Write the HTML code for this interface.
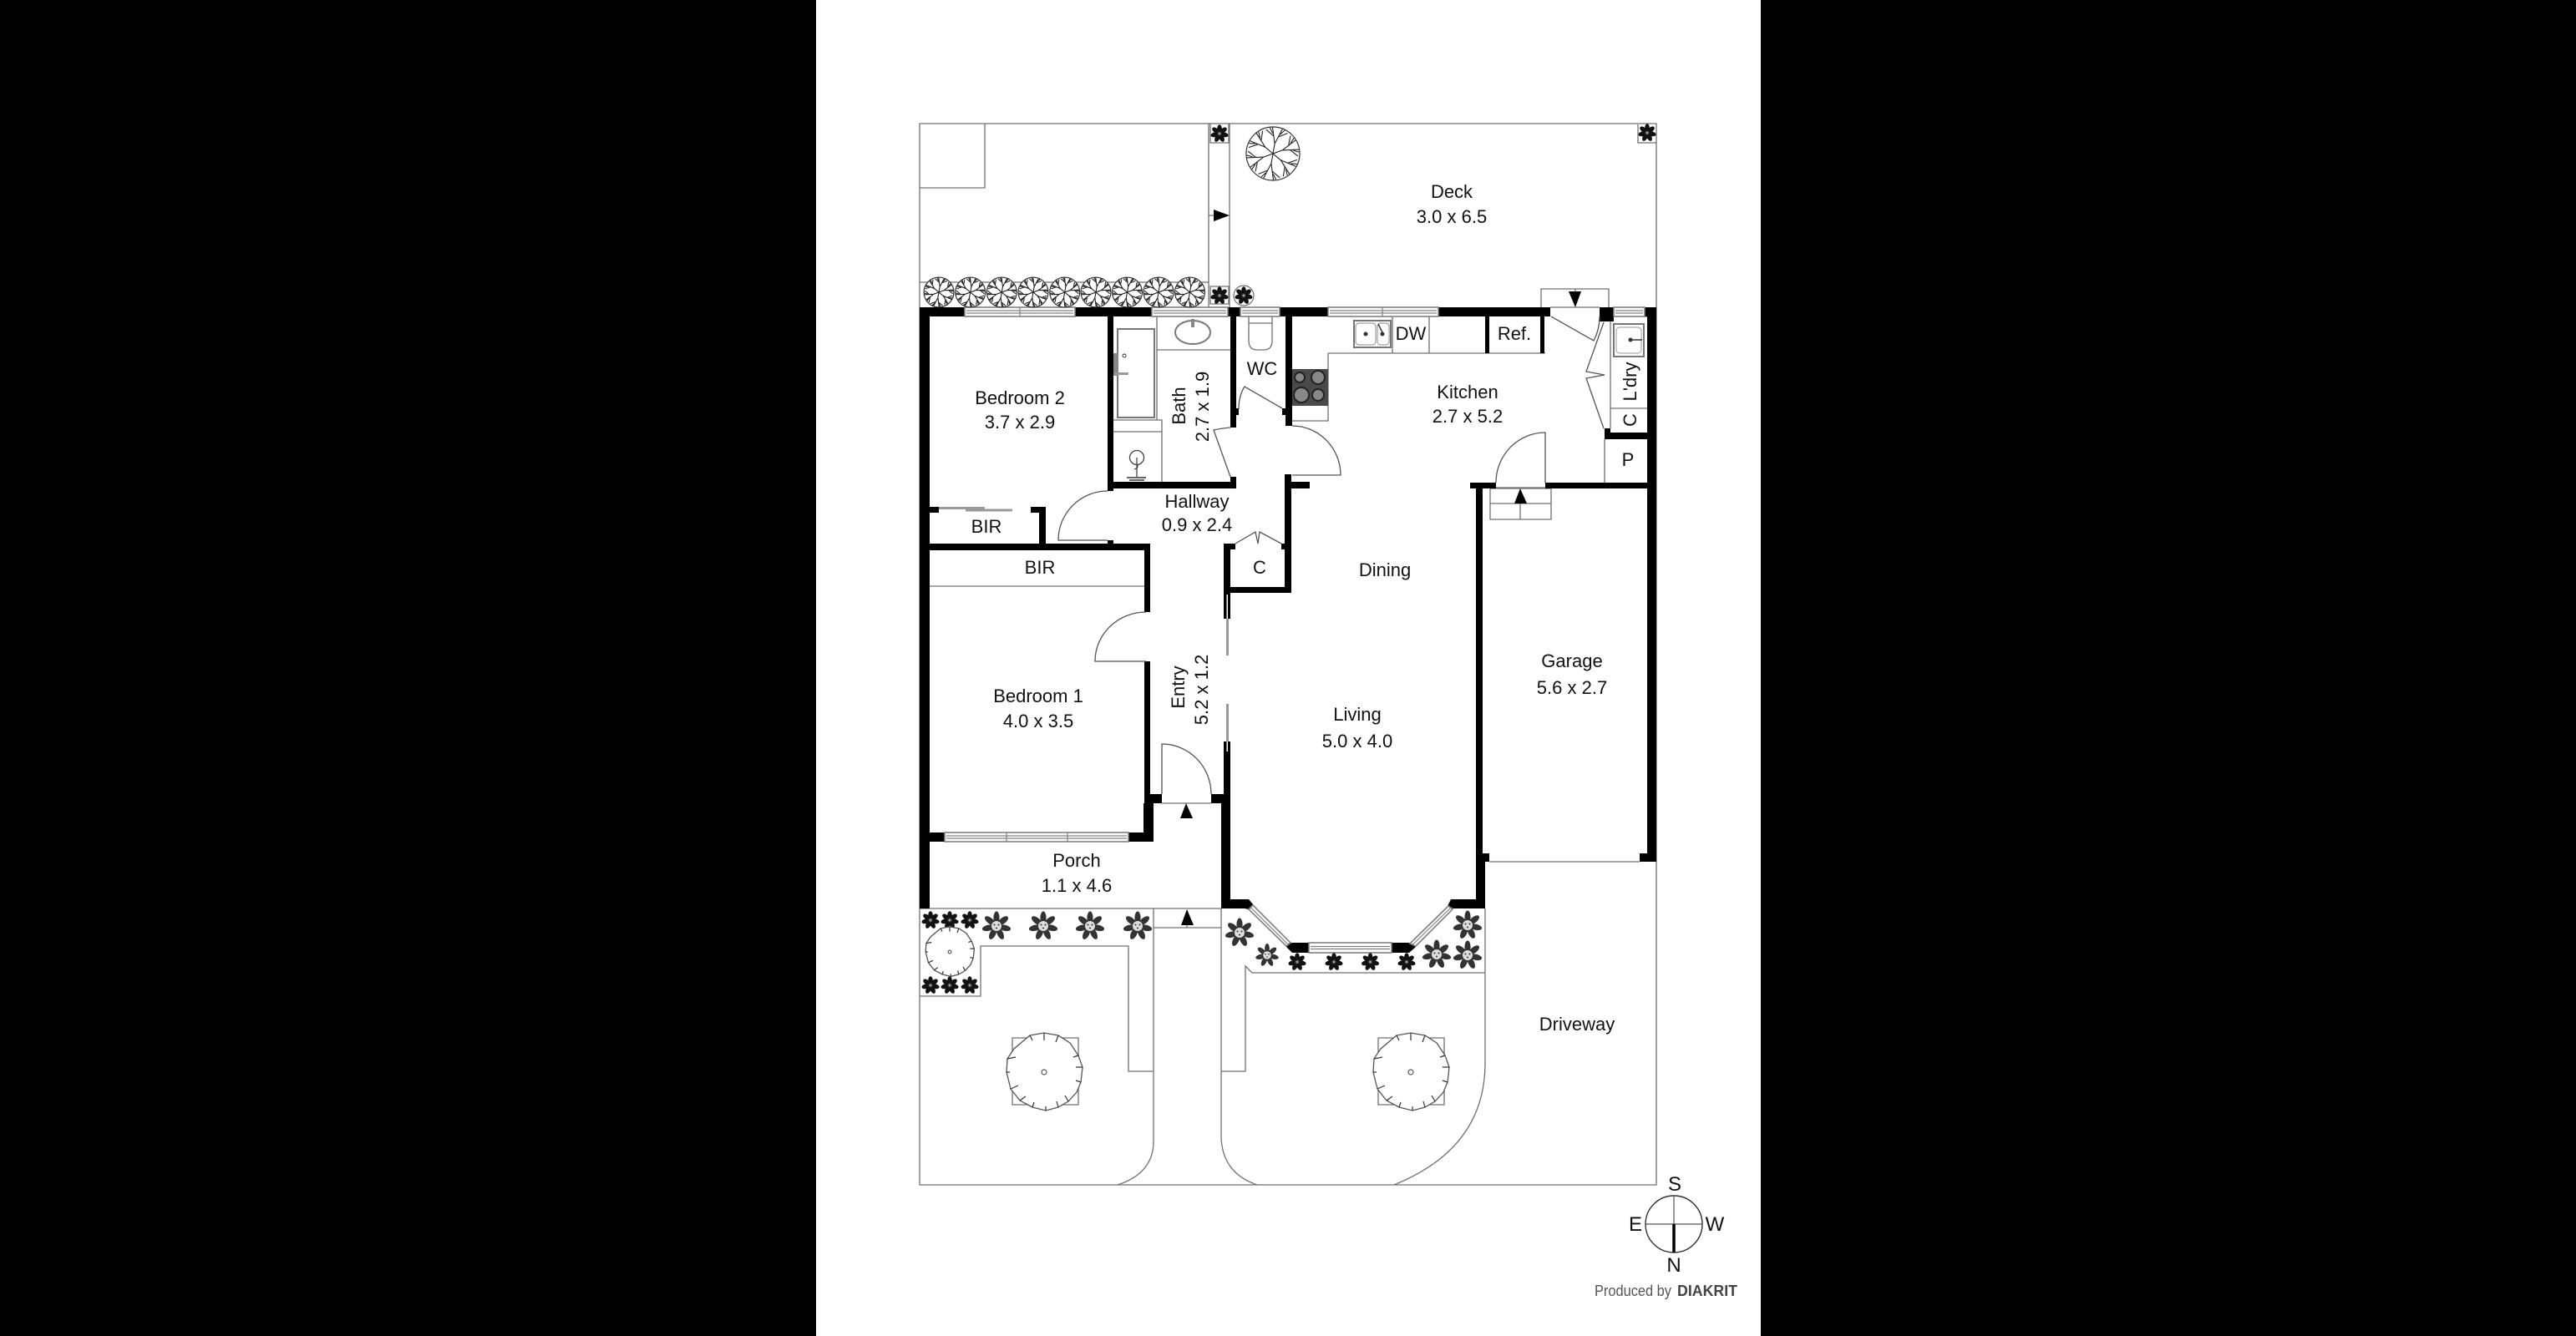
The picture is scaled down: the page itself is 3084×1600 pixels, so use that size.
<!DOCTYPE html>
<html><head><meta charset="utf-8"><title>Floor plan</title>
<style>
html,body{margin:0;padding:0;background:#000;width:3084px;height:1600px;overflow:hidden}
svg{display:block}
text{font-family:"Liberation Sans",sans-serif;font-size:22px;fill:#111;text-anchor:middle}
.l{fill:none;stroke:#707070;stroke-width:1.3}
.d{fill:none;stroke:#555;stroke-width:1.3}
.w{fill:#fff;stroke:#808080;stroke-width:1.6}
</style></head><body>
<svg xmlns="http://www.w3.org/2000/svg" width="3084" height="1600" viewBox="0 0 3084 1600">
<defs>
<g id="fs"><g fill="#111">
<ellipse cx="0" cy="-6" rx="2.8" ry="4.8"/><ellipse cx="0" cy="-6" rx="2.8" ry="4.8" transform="rotate(51)"/><ellipse cx="0" cy="-6" rx="2.8" ry="4.8" transform="rotate(103)"/><ellipse cx="0" cy="-6" rx="2.8" ry="4.8" transform="rotate(154)"/><ellipse cx="0" cy="-6" rx="2.8" ry="4.8" transform="rotate(206)"/><ellipse cx="0" cy="-6" rx="2.8" ry="4.8" transform="rotate(257)"/><ellipse cx="0" cy="-6" rx="2.8" ry="4.8" transform="rotate(309)"/></g>
<circle r="3.2" fill="#222"/><circle r="1.6" fill="#999"/></g>
<g id="fl"><g fill="#333">
<ellipse cx="0" cy="-10" rx="3.6" ry="7.5"/><ellipse cx="0" cy="-10" rx="3.6" ry="7.5" transform="rotate(51)"/><ellipse cx="0" cy="-10" rx="3.6" ry="7.5" transform="rotate(103)"/><ellipse cx="0" cy="-10" rx="3.6" ry="7.5" transform="rotate(154)"/><ellipse cx="0" cy="-10" rx="3.6" ry="7.5" transform="rotate(206)"/><ellipse cx="0" cy="-10" rx="3.6" ry="7.5" transform="rotate(257)"/><ellipse cx="0" cy="-10" rx="3.6" ry="7.5" transform="rotate(309)"/></g>
<circle r="6" fill="#ddd"/><circle cx="-2.500" cy="-1.500" r="1" fill="#333"/><circle cx="2.500" cy="-1.500" r="1" fill="#333"/><circle cx="0" cy="2.500" r="1" fill="#333"/></g>
<path id="br" d="M0 0L0 -12M0 -12L-6 -31M0 -12L6 -31M-3 -21L-13 -27M3 -21L13 -27M-4.500 -24L-9 -30M4.500 -24L9 -30" fill="none" stroke="#222" stroke-width="1.1" vector-effect="non-scaling-stroke"/>
<g id="tree"><circle r="32" fill="#fff" stroke="#333" stroke-width="1.2" vector-effect="non-scaling-stroke"/>
<use href="#br" transform="rotate(10)"/><use href="#br" transform="rotate(70)"/><use href="#br" transform="rotate(130)"/><use href="#br" transform="rotate(190)"/><use href="#br" transform="rotate(250)"/><use href="#br" transform="rotate(310)"/></g>
<g id="shrub"><path d="M-17 -44L0 -47L17 -44L31 -35L41 -20L46 -6L44 12L39 24L29 35L17 42L2 46L-14 42L-29 34L-40 20L-45 0L-44 -16L-36 -28Z" fill="#fff" stroke="#555" stroke-width="1.3" vector-effect="non-scaling-stroke"/>
<path d="M0 -47V-38M17 -44L14 -36M41 -20L35 -18M46 -6L38 -6M44 12L38 10M29 35L25 28M17 42L15 35M2 46V41M-14 42L-12 36M-29 34L-22 29M-40 20L-31 16M-45 0H-41M-44 -16L-34 -18M-17 -44L-14 -38" fill="none" stroke="#333" stroke-width="1.2" vector-effect="non-scaling-stroke"/>
<circle r="3" fill="#fff" stroke="#555" stroke-width="1.2" vector-effect="non-scaling-stroke"/></g>
</defs>

<rect x="0" y="0" width="3084" height="1600" fill="#000"/>
<rect x="977" y="0" width="1131" height="1600" fill="#fff"/>

<!-- site lines -->
<path class="l" d="M1101 1088V148H1983V1032M1101 1088V1419H1983V1032"/>
<path class="l" d="M1101 225H1179V148M1101 338H1447M1447 148V368M1472 148V368M1447 258H1453"/>
<path class="l" d="M1449 148V171H1471V148M1449 343H1471V364H1449Z M1961 149V171H1983"/>
<path class="l" d="M1101 1088H1462M1101 1193H1174V1133H1351V1283H1381M1381 1088V1367Q1381 1405 1338 1419"/>
<path class="l" d="M1381 1111H1462M1462 1088V1363Q1464 1405 1505 1419M1462 1283H1491V1157L1499 1165H1778M1778 1088V1273Q1778 1375 1669 1419"/>
<path class="l" d="M1212 1243H1291V1323H1212ZM1650 1243H1729V1323H1650Z"/>
<path class="l" d="M1783 1032H1963M1113 702H1370"/>
<path class="l" d="M1845 368V346H1926V368M1856 368H1915M1886 346V350"/>
<path class="l" d="M1784 585H1857V622H1784ZM1784 603H1857M1820 603V622M1791 584H1850"/>
<path class="l" d="M1391 962H1450"/>
<path class="l" d="M1385 379V503M1333 503H1391V577M1333 517H1391M1385 419H1473"/>
<path class="l" d="M1590 423H1850M1590 423V504H1547M1667 379V423M1711 379V423"/>
<path class="l" d="M1928 379V513M1928 489H1972M1928 379H1972M1921 526V578"/>

<!-- walls -->
<g fill="#000">
<rect x="1101" y="368" width="54" height="11"/><rect x="1287" y="368" width="92" height="11"/><rect x="1470" y="368" width="15" height="11"/><rect x="1532" y="368" width="58" height="11"/><rect x="1722" y="368" width="134" height="11"/><rect x="1915" y="368" width="17" height="17"/><rect x="1969" y="368" width="14" height="11"/>
<rect x="1101" y="368" width="12" height="720"/>
<rect x="1972" y="368" width="11" height="664"/>
<rect x="1326" y="379" width="7" height="209"/>
<rect x="1326" y="577" width="154" height="8"/><rect x="1473" y="571" width="7" height="14"/>
<rect x="1473" y="379" width="7" height="133"/><rect x="1480" y="489" width="3" height="8"/>
<rect x="1539" y="379" width="8" height="131"/><rect x="1535" y="489" width="4" height="8"/>
<rect x="1538" y="568" width="8" height="142"/><rect x="1546" y="577" width="22" height="8"/>
<rect x="1465" y="703" width="81" height="7"/><rect x="1465" y="651" width="8" height="90"/><rect x="1465" y="651" width="14" height="7"/><rect x="1534" y="651" width="4" height="7"/>
<rect x="1465" y="888" width="8" height="74"/><rect x="1462" y="962" width="11" height="126"/><rect x="1450" y="951" width="15" height="11"/>
<rect x="1377" y="951" width="14" height="11"/><rect x="1370" y="792" width="7" height="170"/><rect x="1369" y="962" width="12" height="46"/>
<rect x="1113" y="997" width="18" height="11"/><rect x="1351" y="997" width="30" height="11"/>
<rect x="1113" y="651" width="264" height="8"/><rect x="1370" y="651" width="7" height="82"/>
<rect x="1113" y="607" width="11" height="7"/><rect x="1234" y="607" width="18" height="7"/><rect x="1244" y="607" width="8" height="44"/><rect x="1326" y="647" width="7" height="5"/>
<rect x="1778" y="379" width="5" height="44"/><rect x="1844" y="379" width="5" height="44"/>
<rect x="1760" y="578" width="31" height="7"/><rect x="1850" y="578" width="122" height="7"/>
<rect x="1921" y="513" width="7" height="13"/><rect x="1921" y="518" width="51" height="8"/>
<rect x="1767" y="585" width="8" height="437"/><rect x="1767" y="1022" width="16" height="10"/><rect x="1767" y="1032" width="11" height="56"/>
<rect x="1963" y="1022" width="10" height="10"/>
<path d="M1462 1077H1495L1500 1083L1495 1089L1490 1088H1462Z"/>
<path d="M1545 1129H1567V1141H1547L1539 1133Z"/>
<path d="M1666 1129H1687L1695 1134L1687 1141H1666Z"/>
<path d="M1737 1077H1778V1088H1740L1733 1085Z"/>
</g>

<!-- windows -->
<g class="w">
<rect x="1155" y="368" width="132" height="11"/><rect x="1379" y="368" width="91" height="11"/><rect x="1485" y="368" width="47" height="11"/><rect x="1590" y="368" width="132" height="11"/><rect x="1932" y="368" width="37" height="11"/>
<rect x="1131" y="997" width="220" height="11"/><rect x="1567" y="1129" width="99" height="12"/>
<path d="M1500 1084L1545 1129L1540 1133L1495 1089Z"/><path d="M1688 1130L1734 1085L1739 1089L1695 1133Z"/>
</g>
<path d="M1157 372H1285M1157 375H1285M1381 372H1468M1381 375H1468M1487 372H1530M1487 375H1530M1592 372H1720M1592 375H1720M1934 372H1967M1934 375H1967M1133 1001H1349M1133 1004H1349M1569 1133.500H1664M1569 1136.500H1664M1497 1086.500L1542 1131M1691 1131.500L1737 1087M1221 368V379M1655 368V379M1205 997V1008M1278 997V1008" fill="none" stroke="#808080" stroke-width="1.200"/>
<rect x="1468" y="741" width="3" height="44" fill="#999"/><rect x="1468" y="843" width="3" height="45" fill="#999"/>
<rect x="1468.500" y="712" width="1.500" height="29" fill="#fff"/><rect x="1468.500" y="888" width="1.500" height="12" fill="#fff"/>
<rect x="1124" y="607" width="55" height="3" fill="#999"/><rect x="1156" y="609.500" width="56" height="3" fill="#999"/>

<!-- doors -->
<g class="d">
<path d="M1326 647H1267A59 59 0 0 1 1326 588"/>
<path d="M1372 792H1311A61 59 0 0 1 1372 733"/>
<path d="M1391 951V891A59 60 0 0 1 1450 951"/>
<path d="M1547 569H1605A58 59 0 0 0 1547 510"/>
<path d="M1850 578V518A59 60 0 0 0 1791 578"/>
<path d="M1535 489L1490 463Q1483 474 1483 490"/>
<path d="M1473 571L1453 515Q1462 513 1473 512"/>
<path d="M1857 379L1908 408Q1915 395 1915 379"/>
<path d="M1920 386L1899 445L1921 449L1899 453L1920 513"/>
<path d="M1479 651L1503 637L1506 651L1508 637L1534 651"/>
</g>

<!-- arrows -->
<g fill="#000">
<path d="M1453 251L1472 258L1453 265Z"/>
<path d="M1420 962L1428 980H1413Z"/>
<path d="M1421 1089L1429 1108H1414Z"/>
<path d="M1886 368L1893 349H1878Z"/>
<path d="M1820 585L1828 603H1813Z"/>
</g>
<path class="l" d="M1421 1108V1111"/>

<!-- fixtures -->
<rect x="1338" y="394" width="44" height="106" fill="#fff" stroke="#777" stroke-width="2"/>
<rect x="1333" y="423" width="6" height="27" fill="#888"/><circle cx="1346" cy="426" r="2" fill="#fff" stroke="#333"/><rect x="1334" y="446" width="17" height="3" fill="#999"/>
<ellipse cx="1428" cy="398" rx="21" ry="14" fill="#fff" stroke="#777" stroke-width="2"/><rect x="1426" y="382" width="4" height="10" fill="#888"/>
<path class="l" d="M1495 379V408Q1495 419 1505 419H1513Q1523 419 1523 408V379M1495 387H1523"/>
<rect x="1547" y="442" width="43" height="44" fill="#4a4a4a"/>
<g fill="#888" stroke="#222" stroke-width="2"><circle cx="1556" cy="452" r="6"/><circle cx="1578" cy="452" r="8"/><circle cx="1558" cy="473" r="9"/><circle cx="1578" cy="473" r="7"/></g>
<rect x="1621" y="384" width="44" height="32" fill="#fff" stroke="#777" stroke-width="2"/>
<rect x="1623" y="387" width="24" height="26" rx="4" fill="#fff" stroke="#888"/><rect x="1649" y="387" width="14" height="26" rx="4" fill="#fff" stroke="#888"/>
<circle cx="1635" cy="400" r="2.500" fill="#333"/><circle cx="1655" cy="400" r="2.500" fill="#333"/><path d="M1650 388L1655 398" stroke="#333" stroke-width="1.500"/>
<rect x="1932" y="388" width="36" height="39" fill="#fff" stroke="#777" stroke-width="2"/><rect x="1935" y="392" width="30" height="31" rx="4" fill="#fff" stroke="#999"/>
<circle cx="1952" cy="407" r="2.500" fill="#333"/><path d="M1952 407H1966" stroke="#333" stroke-width="1.500"/>
<g fill="none" stroke="#444" stroke-width="1.300"><circle cx="1361" cy="548" r="8.500"/><path d="M1361 548V572M1350 572H1372M1358 562Q1364 560 1361 556"/></g>
<path d="M1349 572H1372M1352 575H1370" stroke="#666" stroke-width="2"/>

<!-- plants -->
<use href="#tree" transform="translate(1524 184)"/>
<g>
<use href="#tree" transform="translate(1124 350) scale(.56)"/><use href="#tree" transform="translate(1161.700 350) scale(.56)"/><use href="#tree" transform="translate(1199.300 350) scale(.56)"/><use href="#tree" transform="translate(1237 350) scale(.56)"/><use href="#tree" transform="translate(1274.700 350) scale(.56)"/><use href="#tree" transform="translate(1312 350) scale(.56)"/><use href="#tree" transform="translate(1349.500 350) scale(.56)"/><use href="#tree" transform="translate(1387 350) scale(.56)"/><use href="#tree" transform="translate(1424.500 350) scale(.56)"/>
</g>
<use href="#fs" transform="translate(1460 160)"/><use href="#fs" transform="translate(1460 354)"/><circle cx="1489" cy="354" r="12" fill="#fff" stroke="#555"/><use href="#fs" transform="translate(1489 354)"/><use href="#fs" transform="translate(1972 159)"/>
<use href="#fs" transform="translate(1114 1102)"/><use href="#fs" transform="translate(1137 1102)"/><use href="#fs" transform="translate(1161 1102)"/>
<use href="#fs" transform="translate(1114 1180)"/><use href="#fs" transform="translate(1137 1180)"/><use href="#fs" transform="translate(1161 1180)"/>
<use href="#fl" transform="translate(1193 1109)"/><use href="#fl" transform="translate(1249 1109)"/><use href="#fl" transform="translate(1305 1109)"/><use href="#fl" transform="translate(1362 1109)"/>
<use href="#fl" transform="translate(1484 1117)"/><use href="#fl" transform="translate(1517 1144) scale(.8)"/>
<use href="#fs" transform="translate(1553 1152)"/><use href="#fs" transform="translate(1597 1152)"/><use href="#fs" transform="translate(1640.500 1152)"/><use href="#fs" transform="translate(1684 1152)"/>
<use href="#fl" transform="translate(1720 1143)"/><use href="#fl" transform="translate(1757 1108)"/><use href="#fl" transform="translate(1757 1144)"/>
<use href="#shrub" transform="translate(1137 1140) scale(.64)"/>
<use href="#shrub" transform="translate(1250 1284)"/><use href="#shrub" transform="translate(1689 1284)"/>

<!-- labels -->
<text x="1738" y="237">Deck</text><text x="1738" y="267">3.0 x 6.5</text>
<text x="1757" y="477">Kitchen</text><text x="1757" y="506">2.7 x 5.2</text>
<text x="1221" y="484">Bedroom 2</text><text x="1221" y="513">3.7 x 2.9</text>
<text transform="translate(1419 486) rotate(-90)">Bath</text><text transform="translate(1447 487) rotate(-90)">2.7 x 1.9</text>
<text x="1511" y="449">WC</text><text x="1689" y="407">DW</text><text x="1813" y="407">Ref.</text>
<text transform="translate(1959 457) rotate(-90)">L'dry</text><text transform="translate(1959 503) rotate(-90)">C</text>
<text x="1949" y="558">P</text><text x="1508" y="687">C</text>
<text x="1433" y="608">Hallway</text><text x="1433" y="636">0.9 x 2.4</text>
<text x="1181" y="638">BIR</text><text x="1245" y="687">BIR</text>
<text x="1243" y="841">Bedroom 1</text><text x="1243" y="871">4.0 x 3.5</text>
<text transform="translate(1418 823) rotate(-90)">Entry</text><text transform="translate(1446 826) rotate(-90)">5.2 x 1.2</text>
<text x="1289" y="1038">Porch</text><text x="1289" y="1068">1.1 x 4.6</text>
<text x="1658" y="690">Dining</text><text x="1625" y="863">Living</text><text x="1625" y="895">5.0 x 4.0</text>
<text x="1882" y="799">Garage</text><text x="1882" y="831">5.6 x 2.7</text>
<text x="1888" y="1234">Driveway</text>

<!-- compass -->
<circle cx="2004" cy="1466" r="34" fill="#fff" stroke="#333" stroke-width="1.400"/>
<path d="M2004 1432V1466M1970 1466H2038" stroke="#555" stroke-width="1.200"/><path d="M2004 1466V1500" stroke="#000" stroke-width="3.500"/>
<text x="2005" y="1426" style="font-size:24px">S</text><text x="1958" y="1474" style="font-size:24px">E</text><text x="2053" y="1474" style="font-size:24px">W</text><text x="2004" y="1523" style="font-size:24px">N</text>
<text x="1909" y="1552" textLength="92" lengthAdjust="spacingAndGlyphs" style="font-size:18px;fill:#555;text-anchor:start">Produced by</text>
<text x="2008" y="1552" textLength="72" lengthAdjust="spacingAndGlyphs" style="font-size:18px;font-weight:bold;fill:#444;text-anchor:start">DIAKRIT</text>
</svg>
</body></html>
